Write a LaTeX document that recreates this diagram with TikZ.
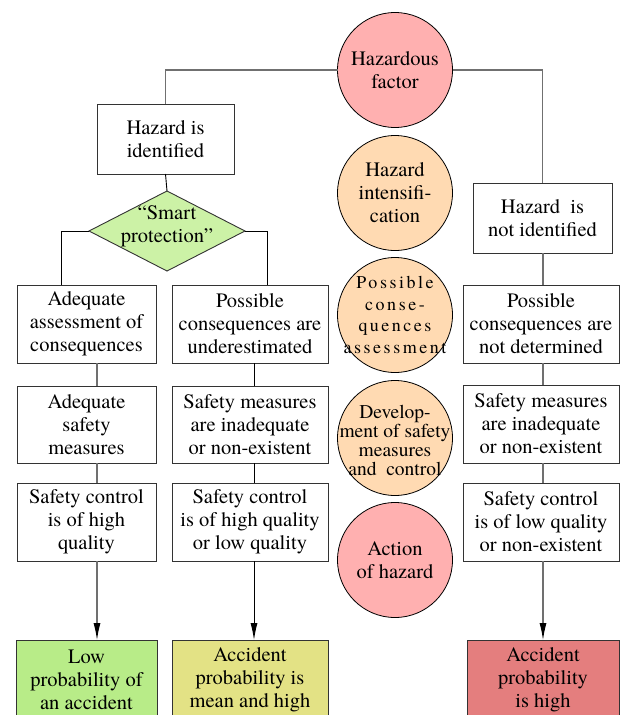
\documentclass[tikz,border=0pt]{standalone}
\usepackage{fontspec}
\setmainfont{texgyretermes}[Extension=.otf,UprightFont=*-regular,BoldFont=*-bold,ItalicFont=*-italic,BoldItalicFont=*-bolditalic,Ligatures=TeX]
\usetikzlibrary{shapes.geometric,arrows.meta}
\definecolor{cpink}{HTML}{FFB0B0}
\definecolor{cpeach}{HTML}{FFDAB2}
\definecolor{cdiam}{HTML}{CCF2A6}
\definecolor{cgreen}{HTML}{B8EC88}
\definecolor{cyellow}{HTML}{E3E285}
\definecolor{cred}{HTML}{E47E7E}
\definecolor{cline}{HTML}{707070}
\tikzset{
  txt/.style={font=\rmfamily\fontsize{20.5}{23}\selectfont, align=center},
  box/.style={txt, draw=black!80, line width=0.9pt, rectangle, inner sep=0pt, outer sep=0pt},
  circ/.style={draw=black, line width=0.8pt, circle, minimum size=115pt, inner sep=0pt, outer sep=0pt},
  conn/.style={draw=cline, line width=1.1pt},
  connb/.style={draw=black, line width=0.9pt},
  arr/.style={-{Latex[length=17pt,width=7pt,black]}}
}
\begin{document}
\begin{tikzpicture}[x=1pt,y=-1pt]
\useasboundingbox (0,0) rectangle (620,715);
\clip (0,0) rectangle (620,715);
% circles
\node[circ, fill=cpink] (C0) at (395,70) {};
\node[txt] (C0t) at (C0) {Hazardous\\factor};
\node[circ, fill=cpeach] (C1) at (395,193) {};
\node[txt] (C1t) at (C1) {Hazard\\intensifi-\\cation};
\node[circ, fill=cpeach] (C2) at (395,315) {};
\node[txt, font=\rmfamily\fontsize{18}{21.5}\selectfont\addfontfeature{LetterSpace=14}] (C2t) at (C2) {Possible\\conse-\\quences\\assessment};
\node[circ, fill=cpeach] (C3) at (395,438) {};
\node[txt, font=\rmfamily\fontsize{19.5}{19}\selectfont] (C3t) at (395,440) {Develop-\\ment of safety\\measures\\and\ \ control};
\node[circ, fill=cpink] (C4) at (395,560) {};
\node[txt] (C4t) at (C4) {Action\\of hazard};
% top boxes
\node[box, minimum width=137pt, minimum height=70pt] (HI) at (165.5,139) {Hazard is\\identified};
\node[box, minimum width=139pt, minimum height=70pt] (HNI) at (542.5,218) {Hazard\ \ is\\not identified};
\node[diamond, draw=black!80, line width=0.9pt, fill=cdiam, minimum width=156pt, minimum height=80pt, aspect=1.95, inner sep=0pt, outer sep=0pt] (D) at (167,231) {};
\node[txt] (Dt) at (167,226) {``Smart\\protection''};
% left column
\node[box, minimum width=139pt, minimum height=78pt] (L1) at (86.5,324) {Adequate\\assessment of\\consequences};
\node[box, minimum width=139pt, minimum height=77pt] (L2) at (86.5,424.5) {Adequate\\safety\\measures};
\node[box, minimum width=139pt, minimum height=78pt] (L3) at (86.5,522) {Safety control\\is of high\\quality};
% middle column
\node[box, minimum width=156pt, minimum height=78pt] (M1) at (250,324) {Possible\\consequences are\\underestimated};
\node[box, minimum width=156pt, minimum height=77pt] (M2) at (250,424.5) {Safety measures\\are inadequate\\or non-existent};
\node[box, minimum width=156pt, minimum height=78pt] (M3) at (250,522) {Safety control\\is of high quality\\or low quality};
% right column
\node[box, minimum width=156pt, minimum height=78pt] (R1) at (541,324) {Possible\\consequences are\\not determined};
\node[box, minimum width=156pt, minimum height=78pt] (R2) at (541,424) {Safety measures\\are inadequate\\or non-existent};
\node[box, minimum width=156pt, minimum height=78pt] (R3) at (541,522) {Safety control\\is of low quality\\or non-existent};
% bottom results
\node[box, fill=cgreen, minimum width=141pt, minimum height=80pt] (B1) at (86.5,680) {Low\\probability of\\an accident};
\node[box, fill=cyellow, minimum width=156pt, minimum height=80pt] (B2) at (250,680) {Accident\\probability is\\mean and high};
\node[box, fill=cred, minimum width=152pt, minimum height=80pt] (B3) at (543,680) {Accident\\probability\\is high};
% connector columns
\coordinate (lx) at (97,0);
\coordinate (mx) at (254,0);
\coordinate (rx) at (543,0);
% connectors
\draw[conn] (C0.west) -| (HI.north);
\draw[conn] (C0.east) -| (HNI.north);
\draw[connb] (HI.south) -- (D.north);
\draw[connb] (D.west) -| ([xshift=-25.5pt]L1.north);
\draw[connb] (D.east) -| ([xshift=17pt]M1.north);
\draw[conn] (L1.south -| lx) -- (L2.north -| lx);
\draw[conn] (L2.south -| lx) -- (L3.north -| lx);
\draw[conn,arr] (L3.south -| lx) -- (B1.north -| lx);
\draw[connb] (M1.south -| mx) -- (M2.north -| mx);
\draw[connb] (M2.south -| mx) -- (M3.north -| mx);
\draw[connb,arr] (M3.south -| mx) -- (B2.north -| mx);
\draw[conn] (HNI.south -| rx) -- (R1.north -| rx);
\draw[conn] (R1.south -| rx) -- (R2.north -| rx);
\draw[conn] (R2.south -| rx) -- (R3.north -| rx);
\draw[conn,arr] (R3.south -| rx) -- (B3.north -| rx);
\end{tikzpicture}
\end{document}
